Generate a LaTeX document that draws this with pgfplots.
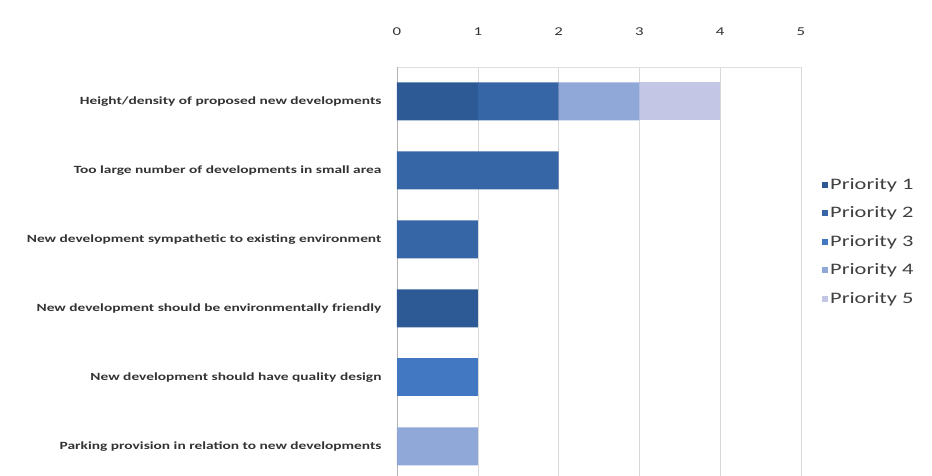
\documentclass[border=0pt]{standalone}
\usepackage{fontspec}
\setmainfont{Carlito}[FakeStretch=1.4]
\usepackage{pgfplots}
\pgfplotsset{compat=1.18}
\definecolor{p1}{HTML}{2D5A94}
\definecolor{p2}{HTML}{3766A6}
\definecolor{p3}{HTML}{4278C2}
\definecolor{p4}{HTML}{8FA8D8}
\definecolor{p5}{HTML}{C3C6E4}
\begin{document}
\begin{tikzpicture}[x=1pt,y=1pt]
\useasboundingbox (-397,0) rectangle (535,476);
\begin{axis}[
  scale only axis, width=404pt, height=409pt,
  xbar stacked, bar width=38pt,
  xmin=0, xmax=5, ymin=-0.43, ymax=5.5,
  axis x line*=top, axis y line*=left,
  x axis line style={draw=gray!25},
  y axis line style={draw=gray!60},
  xtick={0,1,2,3,4,5},
  ytick={0,1,2,3,4,5},
  yticklabels={Parking provision in relation to new developments,
    New development should have quality design,
    New development should be environmentally friendly,
    New development sympathetic to existing environment,
    Too large number of developments in small area,
    Height/density of proposed new developments},
  major tick length=0pt,
  xmajorgrids, grid style={gray!30},
  /pgf/number format/assume math mode=true,
  xticklabel style={font=\fontsize{12}{13}\selectfont, text=black!80, yshift=28pt},
  yticklabel style={font=\bfseries\fontsize{11}{12}\selectfont, text=black!80, xshift=-12pt},
  legend style={at={(1.052,0.733)}, anchor=north west, draw=none,
    font=\fontsize{16}{17}\selectfont, text=black!75, row sep=12pt, inner sep=0pt,
    /tikz/every even column/.append style={column sep=2pt}},
  legend cell align=left,
  legend image code/.code={\fill[#1] (0pt,-3pt) rectangle (6pt,3pt);},
  every axis plot/.append style={draw=none},
]
\addplot[fill=p1] coordinates {(0,0) (0,1) (1,2) (0,3) (0,4) (1,5)};
\addplot[fill=p2] coordinates {(0,0) (0,1) (0,2) (1,3) (2,4) (1,5)};
\addplot[fill=p3] coordinates {(0,0) (1,1) (0,2) (0,3) (0,4) (0,5)};
\addplot[fill=p4] coordinates {(1,0) (0,1) (0,2) (0,3) (0,4) (1,5)};
\addplot[fill=p5] coordinates {(0,0) (0,1) (0,2) (0,3) (0,4) (1,5)};
\legend{Priority 1, Priority 2, Priority 3, Priority 4, Priority 5}
\end{axis}
\end{tikzpicture}
\end{document}
